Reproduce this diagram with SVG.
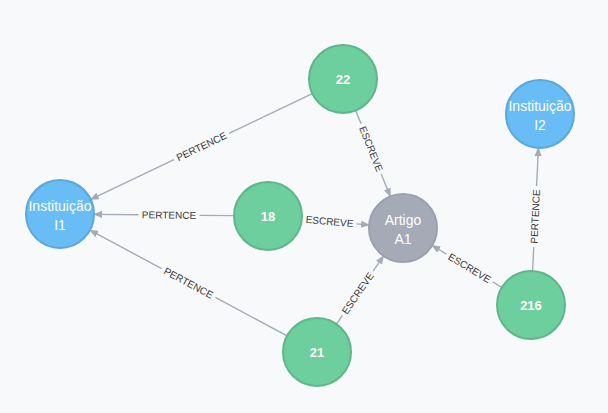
<svg xmlns="http://www.w3.org/2000/svg" width="608" height="413" viewBox="0 0 608 413">
<style>
.bg{fill:#f8f9fb}
.edge line{stroke:#a5abb6;stroke-width:1.4}
.elabel{font-family:"Liberation Sans",Arial,sans-serif;font-size:10px;fill:#3a3a3a;text-anchor:middle;dominant-baseline:central}
.green{fill:#6dce9e;stroke:#60b58b;stroke-width:2}
.blue{fill:#68bdf6;stroke:#5ca8db;stroke-width:2}
.gray{fill:#a5abb6;stroke:#9aa1ac;stroke-width:2}
.nlabel{font-family:"Liberation Sans",Arial,sans-serif;font-size:14px;fill:#ffffff;text-anchor:middle}
.num{font-family:"Liberation Sans",Arial,sans-serif;font-size:13px;font-weight:bold;fill:#ffffff;text-anchor:middle;dominant-baseline:central}
</style>
<defs>
<marker id="arrow" viewBox="0 0 10 8" refX="9" refY="4" markerWidth="9" markerHeight="7.2" markerUnits="userSpaceOnUse" orient="auto">
<path d="M0,0 L10,4 L0,8 z" fill="#a5abb6"/>
</marker>
</defs>
<rect class="bg" x="0" y="0" width="608" height="413"/>
<g id="connectors">
<g class="edge" id="e-22-I1" transform="translate(201.5,146.5) rotate(-25.5)">
<line x1="-30.5" y1="0" x2="-122.75" y2="0" marker-end="url(#arrow)"/>
<line x1="30.5" y1="0" x2="122.75" y2="0"/>
<text class="elabel" x="0" y="0">PERTENCE</text>
</g>
<g class="edge" id="e-18-I1" transform="translate(164,215) rotate(0.55)">
<line x1="-25.5" y1="0" x2="-70" y2="0" marker-end="url(#arrow)"/>
<line x1="35.5" y1="0" x2="70" y2="0"/>
<text class="elabel" x="5" y="0">PERTENCE</text>
</g>
<g class="edge" id="e-21-I1" transform="translate(188.5,283) rotate(28.2)">
<line x1="-30.5" y1="0" x2="-111.85" y2="0" marker-end="url(#arrow)"/>
<line x1="30.5" y1="0" x2="111.85" y2="0"/>
<text class="elabel" x="0" y="0">PERTENCE</text>
</g>
<g class="edge" id="e-22-A1" transform="translate(373,153.5) rotate(68.06)">
<line x1="-32" y1="0" x2="-46.3" y2="0"/>
<line x1="22" y1="0" x2="46.3" y2="0" marker-end="url(#arrow)"/>
<text class="elabel" x="-5" y="0">ESCREVE</text>
</g>
<g class="edge" id="e-18-A1" transform="translate(335.5,222) rotate(5.08)">
<line x1="21" y1="0" x2="33.75" y2="0" marker-end="url(#arrow)"/>
<text class="elabel" x="-6" y="0">ESCREVE</text>
</g>
<g class="edge" id="e-21-A1" transform="translate(360,290) rotate(-55.26)">
<line x1="-31" y1="0" x2="-41.45" y2="0"/>
<line x1="23" y1="0" x2="41.45" y2="0" marker-end="url(#arrow)"/>
<text class="elabel" x="-4" y="0">ESCREVE</text>
</g>
<g class="edge" id="e-216-A1" transform="translate(467,266.5) rotate(31.03)">
<line x1="-24" y1="0" x2="-40.7" y2="0" marker-end="url(#arrow)"/>
<line x1="30" y1="0" x2="40.7" y2="0"/>
<text class="elabel" x="3" y="0">ESCREVE</text>
</g>
<g class="edge" id="e-216-I2" transform="translate(535.5,209.5) rotate(-87.3)">
<line x1="-37.5" y1="0" x2="-61.6" y2="0"/>
<line x1="23.5" y1="0" x2="61.6" y2="0" marker-end="url(#arrow)"/>
<text class="elabel" x="-7" y="0">PERTENCE</text>
</g>
</g>
<g id="node-I1">
<circle class="blue" cx="60" cy="214" r="34"/>
<text class="nlabel" x="60" y="211">Instituição</text>
<text class="nlabel" x="60" y="230">I1</text>
</g>
<g id="node-I2">
<circle class="blue" cx="540" cy="114" r="34"/>
<text class="nlabel" x="540" y="111">Instituição</text>
<text class="nlabel" x="540" y="130">I2</text>
</g>
<g id="node-A1">
<circle class="gray" cx="403" cy="228" r="34"/>
<text class="nlabel" x="403" y="225">Artigo</text>
<text class="nlabel" x="403" y="244">A1</text>
</g>
<g id="node-22">
<circle class="green" cx="343" cy="79" r="34"/>
<text class="num" x="343" y="79">22</text>
</g>
<g id="node-18">
<circle class="green" cx="268" cy="216" r="34"/>
<text class="num" x="268" y="216">18</text>
</g>
<g id="node-21">
<circle class="green" cx="317" cy="352" r="34"/>
<text class="num" x="317" y="352">21</text>
</g>
<g id="node-216">
<circle class="green" cx="531" cy="305" r="34"/>
<text class="num" x="531" y="305">216</text>
</g>
</svg>
